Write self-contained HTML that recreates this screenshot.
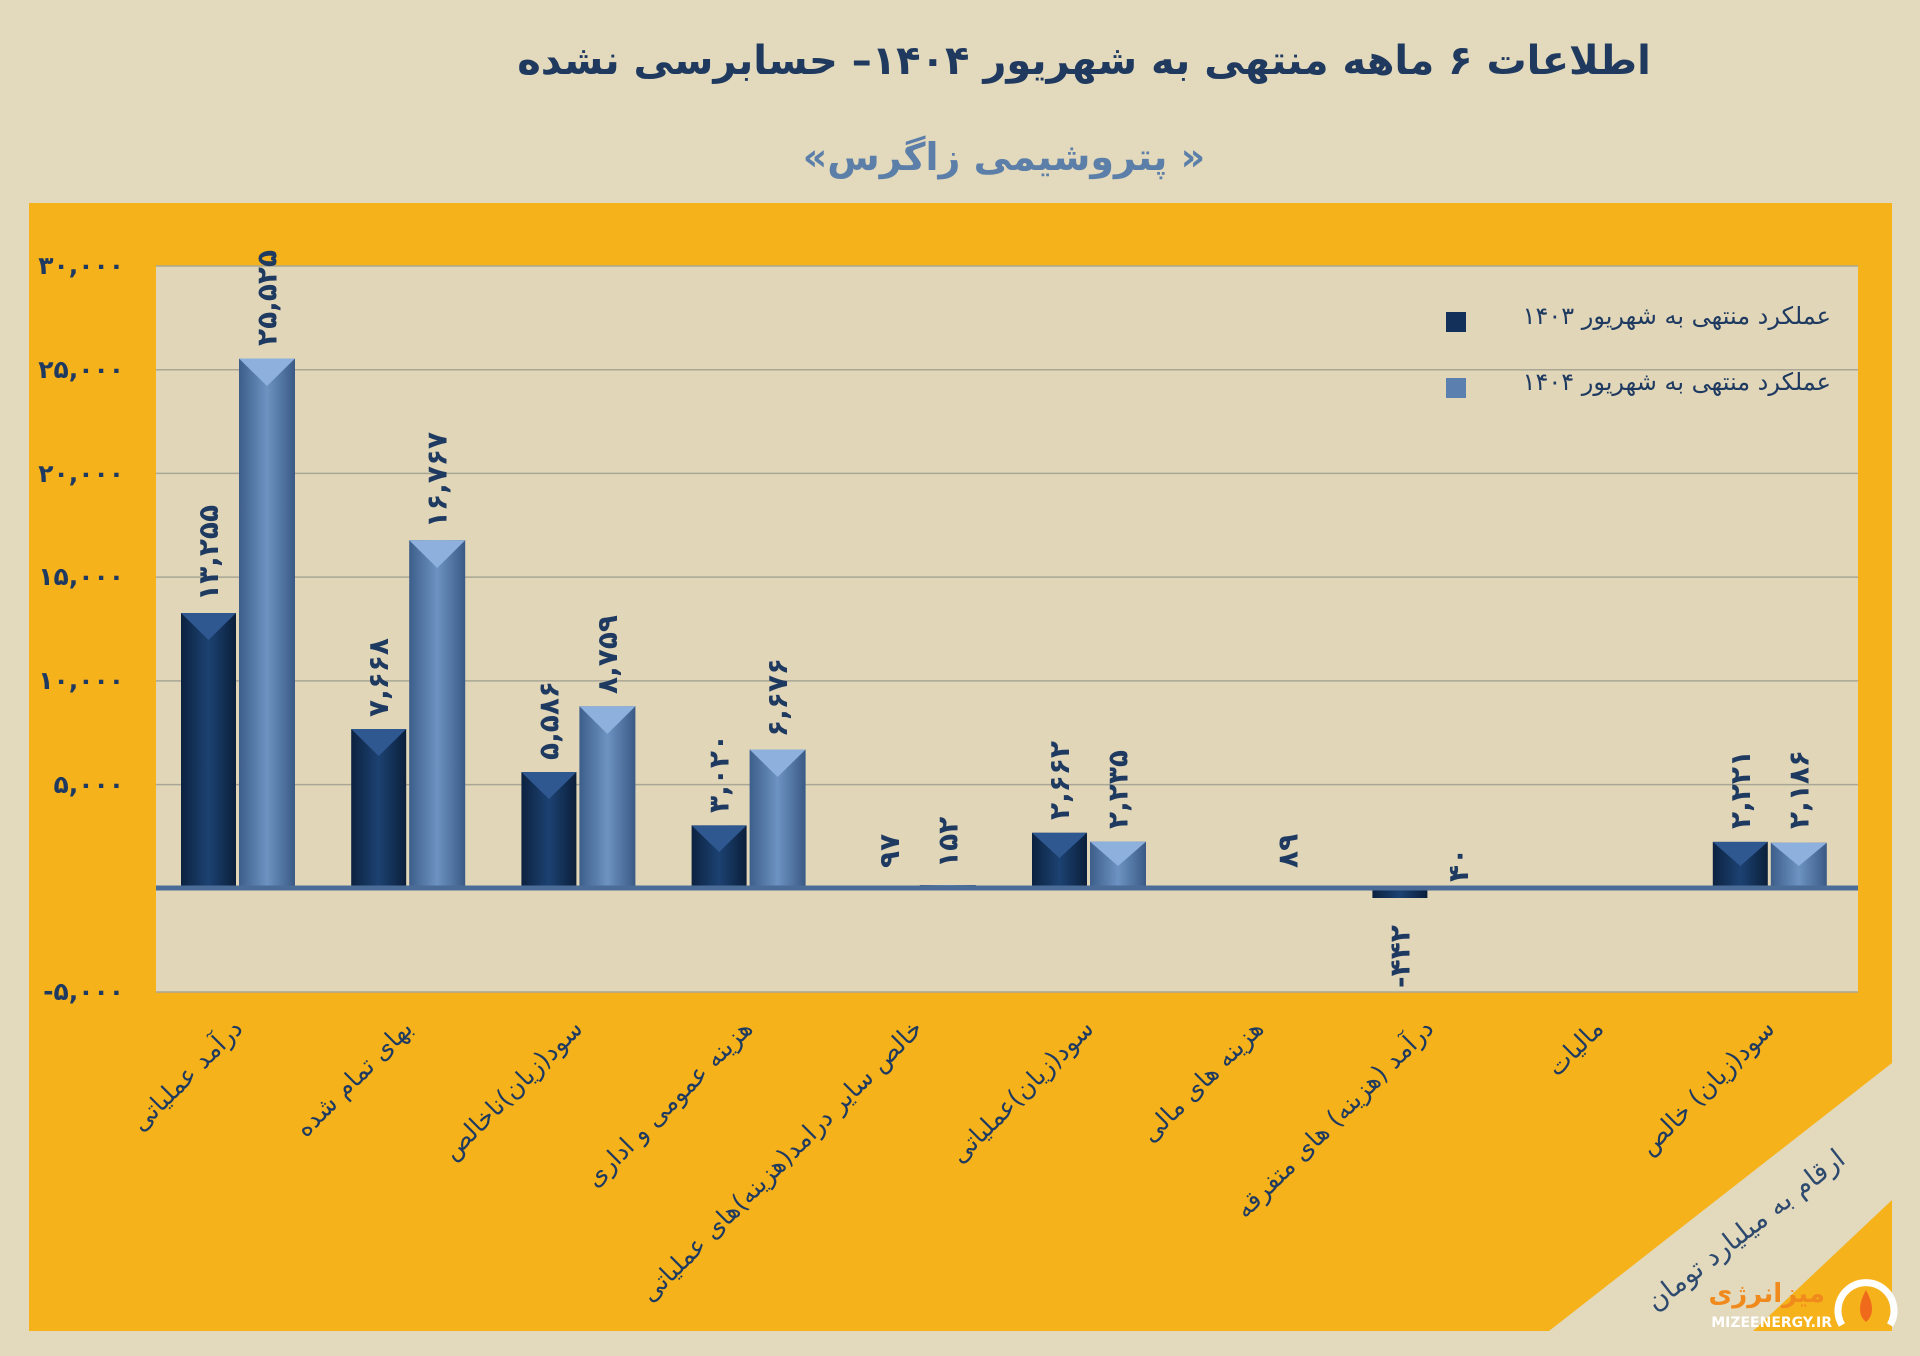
<!DOCTYPE html>
<html><head><meta charset="utf-8"><style>
html,body{margin:0;padding:0;background:#e3d9bd;}
svg{display:block;}
text{font-family:"DejaVu Sans","Liberation Sans",sans-serif;}
</style></head><body>
<svg width="1920" height="1356" viewBox="0 0 1920 1356" xmlns="http://www.w3.org/2000/svg">
<defs>
<linearGradient id="dk" x1="0" x2="1" y1="0" y2="0">
<stop offset="0" stop-color="#0c2240"/><stop offset="0.5" stop-color="#1c4272"/><stop offset="1" stop-color="#0b1f3a"/></linearGradient>
<linearGradient id="lt" x1="0" x2="1" y1="0" y2="0">
<stop offset="0" stop-color="#3d5e8a"/><stop offset="0.5" stop-color="#6d93c2"/><stop offset="1" stop-color="#3a5a85"/></linearGradient>
</defs>
<rect x="0" y="0" width="1920" height="1356" rx="40" fill="#e3d9bd"/>
<polygon points="29,203 1892,203 1892,1063 1549,1331 29,1331" fill="#f6b21b"/>
<polygon points="1892,1200 1892,1331 1753,1331" fill="#f6b21b"/>
<rect x="156" y="266" width="1702" height="726" fill="#e1d6b8"/>
<g stroke="#a9a696" stroke-width="1.5">
<line x1="156" y1="266" x2="1858" y2="266"/>
<line x1="156" y1="369.7" x2="1858" y2="369.7"/>
<line x1="156" y1="473.4" x2="1858" y2="473.4"/>
<line x1="156" y1="577.1" x2="1858" y2="577.1"/>
<line x1="156" y1="680.9" x2="1858" y2="680.9"/>
<line x1="156" y1="784.6" x2="1858" y2="784.6"/>
<line x1="156" y1="992" x2="1858" y2="992"/>
</g>
<g font-size="25" font-weight="bold" fill="#1f3a60" text-anchor="end" direction="ltr" unicode-bidi="bidi-override">
<text x="124" y="274">۳۰,۰۰۰</text>
<text x="124" y="378">۲۵,۰۰۰</text>
<text x="124" y="482">۲۰,۰۰۰</text>
<text x="124" y="585">۱۵,۰۰۰</text>
<text x="124" y="689">۱۰,۰۰۰</text>
<text x="124" y="793">۵,۰۰۰</text>
<text x="124" y="1000">-۵,۰۰۰</text>
</g>
<g>
<rect x="181" y="613" width="55" height="275" fill="url(#dk)"/><polygon points="181,613 236,613 208.5,640" fill="#2f5890"/>
<rect x="239" y="358.5" width="56" height="529.5" fill="url(#lt)"/><polygon points="239,358.5 295,358.5 267,386" fill="#8db0dc"/>
<rect x="351.2" y="729" width="55" height="159" fill="url(#dk)"/><polygon points="351.2,729 406.2,729 378.7,756" fill="#2f5890"/>
<rect x="409.2" y="540.2" width="56" height="347.8" fill="url(#lt)"/><polygon points="409.2,540.2 465.2,540.2 437.2,568" fill="#8db0dc"/>
<rect x="521.4" y="772.1" width="55" height="115.9" fill="url(#dk)"/><polygon points="521.4,772.1 576.4,772.1 548.9,799" fill="#2f5890"/>
<rect x="579.4" y="706.3" width="56" height="181.7" fill="url(#lt)"/><polygon points="579.4,706.3 635.4,706.3 607.4,734" fill="#8db0dc"/>
<rect x="691.6" y="825.4" width="55" height="62.6" fill="url(#dk)"/><polygon points="691.6,825.4 746.6,825.4 719.1,852" fill="#2f5890"/>
<rect x="749.6" y="749.5" width="56" height="138.5" fill="url(#lt)"/><polygon points="749.6,749.5 805.6,749.5 777.6,777" fill="#8db0dc"/>
<rect x="861.8" y="886" width="55" height="2" fill="url(#dk)"/>
<rect x="919.8" y="885" width="56" height="3" fill="url(#lt)"/>
<rect x="1032" y="832.8" width="55" height="55.2" fill="url(#dk)"/><polygon points="1032,832.8 1087,832.8 1059.5,858" fill="#2f5890"/>
<rect x="1090" y="841.6" width="56" height="46.4" fill="url(#lt)"/><polygon points="1090,841.6 1146,841.6 1118,866" fill="#8db0dc"/>
<rect x="1260.2" y="886.2" width="56" height="2" fill="url(#lt)"/>
<rect x="1372.4" y="888" width="55" height="10" fill="url(#dk)"/>
<rect x="1430.4" y="887" width="56" height="1" fill="url(#lt)"/>
<rect x="1712.8" y="841.9" width="55" height="46.1" fill="url(#dk)"/><polygon points="1712.8,841.9 1767.8,841.9 1740.3,866" fill="#2f5890"/>
<rect x="1770.8" y="842.7" width="56" height="45.3" fill="url(#lt)"/><polygon points="1770.8,842.7 1826.8,842.7 1798.8,866" fill="#8db0dc"/>
</g>
<line x1="156" y1="888" x2="1858" y2="888" stroke="#4b6c97" stroke-width="5"/>
<g font-size="28" font-weight="bold" fill="#1f3a60" text-anchor="start" direction="ltr" unicode-bidi="bidi-override" dominant-baseline="central">
<text transform="translate(208.5,601) rotate(-90)">۱۳,۲۵۵</text>
<text transform="translate(267,346) rotate(-90)">۲۵,۵۲۵</text>
<text transform="translate(378.7,717) rotate(-90)">۷,۶۶۸</text>
<text transform="translate(437.2,528) rotate(-90)">۱۶,۷۶۷</text>
<text transform="translate(548.9,760) rotate(-90)">۵,۵۸۶</text>
<text transform="translate(607.4,694) rotate(-90)">۸,۷۵۹</text>
<text transform="translate(719.1,813) rotate(-90)">۳,۰۲۰</text>
<text transform="translate(777.6,737) rotate(-90)">۶,۶۷۶</text>
<text transform="translate(889.3,868) rotate(-90)">۹۷</text>
<text transform="translate(947.8,868) rotate(-90)">۱۵۲</text>
<text transform="translate(1059.5,820) rotate(-90)">۲,۶۶۲</text>
<text transform="translate(1118,829) rotate(-90)">۲,۲۳۵</text>
<text transform="translate(1288.2,868) rotate(-90)">۸۹</text>
<text transform="translate(1458.4,882) rotate(-90)">۴۰</text>
<text transform="translate(1740.3,829) rotate(-90)">۲,۲۲۱</text>
<text transform="translate(1798.8,829) rotate(-90)">۲,۱۸۶</text>
<text transform="translate(1399.9,988) rotate(-90)">-۴۴۲</text>
</g>
<g font-size="25" fill="#1f3a60" text-anchor="end">
<text transform="translate(244,1030) rotate(-45)">درآمد عملیاتی</text>
<text transform="translate(414,1030) rotate(-45)">بهای تمام شده</text>
<text transform="translate(584,1030) rotate(-45)">سود(زیان)ناخالص</text>
<text transform="translate(754,1030) rotate(-45)">هزینه عمومی و اداری</text>
<text transform="translate(924,1030) rotate(-45)">خالص سایر درامد(هزینه)های عملیاتی</text>
<text transform="translate(1095,1030) rotate(-45)">سود(زیان)عملیاتی</text>
<text transform="translate(1265,1030) rotate(-45)">هزینه های مالی</text>
<text transform="translate(1435,1030) rotate(-45)">درآمد (هزینه) های متفرقه</text>
<text transform="translate(1605,1030) rotate(-45)">مالیات</text>
<text transform="translate(1776,1030) rotate(-45)">سود(زیان) خالص</text>
</g>
<rect x="1446" y="312" width="20" height="20" fill="#12305a"/>
<rect x="1446" y="378" width="20" height="20" fill="#5b7fae"/>
<g font-size="24" fill="#1f3a60" text-anchor="end">
<text x="1831" y="324">عملکرد منتهی به شهریور ۱۴۰۳</text>
<text x="1831" y="390">عملکرد منتهی به شهریور ۱۴۰۴</text>
</g>
<text x="1084" y="74" font-size="40" font-weight="bold" fill="#1f3a5e" text-anchor="middle">اطلاعات ۶ ماهه منتهی به شهریور ۱۴۰۴– حسابرسی نشده</text>
<text x="1004" y="170" font-size="38" font-weight="bold" fill="#5b7fa8" text-anchor="middle" direction="rtl">« پتروشیمی زاگرس»</text>
<text transform="translate(1751,1237) rotate(-38)" font-size="27" fill="#2d4a6e" text-anchor="middle">ارقام به میلیارد تومان</text>
<text x="1825" y="1302" font-size="26" font-weight="bold" fill="#f08a1c" text-anchor="end">میزانرژی</text>
<text x="1832" y="1327" font-size="14" font-weight="bold" fill="#ffffff" text-anchor="end">MIZEENERGY.IR</text>
<path d="M1842,1325 A28,28 0 1 1 1890,1325" fill="none" stroke="#ffffff" stroke-width="7"/>
<path d="M1866,1322 q-12,-10 0,-32 q12,22 0,32z" fill="#f06a1c"/>
</svg>
</body></html>
